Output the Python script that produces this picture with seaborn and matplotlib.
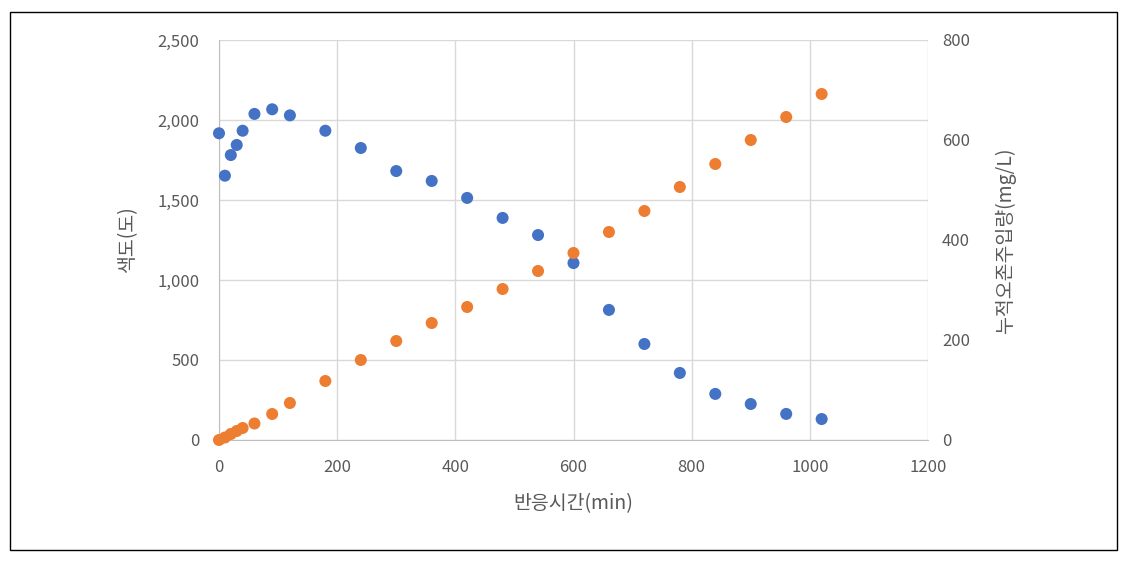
import matplotlib
matplotlib.use("Agg")
import matplotlib.pyplot as plt
import seaborn as sns
import pandas as pd
from matplotlib.patches import Rectangle
from matplotlib.ticker import FuncFormatter

sns.set_style("white")
plt.rcParams['font.family'] = ['Noto Sans CJK KR', 'DejaVu Sans']

time_min = [0, 10, 20, 30, 40, 60, 90, 120, 180, 240, 300, 360, 420, 480, 540,
            600, 660, 720, 780, 840, 900, 960, 1020]
color_deg = [1917, 1652, 1781, 1844, 1933, 2038, 2067, 2029, 1933, 1825, 1681,
             1619, 1513, 1388, 1281, 1106, 813, 600, 419, 288, 225, 163, 131]
ozone_mgL = [0, 5, 12, 18, 24, 33, 52, 74, 118, 160, 198, 234, 266, 302, 338,
             374, 416, 458, 506, 552, 600, 646, 692]

df = pd.DataFrame({"time": time_min, "color": color_deg, "ozone": ozone_mgL})

fig = plt.figure(figsize=(11.27, 5.63), dpi=100)
ax = fig.add_axes([219/1127, 1 - 440/563, (928-219)/1127, 400/563])
ax2 = ax.twinx()

grid_c = "#d9d9d9"
text_c = "#595959"

sns.scatterplot(data=df, x="time", y="color", ax=ax, color="#4472C4", s=75,
                edgecolor="none", zorder=3, clip_on=False)
sns.scatterplot(data=df, x="time", y="ozone", ax=ax2, color="#ED7D31", s=75,
                edgecolor="none", zorder=3, clip_on=False)

ax.set_xlim(0, 1200)
ax.set_ylim(0, 2500)
ax2.set_ylim(0, 800)
ax.set_xticks(range(0, 1201, 200))
ax.set_yticks(range(0, 2501, 500))
ax2.set_yticks(range(0, 801, 200))
ax.yaxis.set_major_formatter(FuncFormatter(lambda v, p: f"{int(v):,}"))

ax.grid(True, color=grid_c, linewidth=1)
ax.set_axisbelow(True)
for a in (ax, ax2):
    for s in a.spines.values():
        s.set_visible(False)
    a.tick_params(length=0, labelsize=12, colors=text_c)
ax.tick_params(axis='y', pad=14)
ax.tick_params(axis='x', pad=14)
ax2.tick_params(axis='y', pad=10)
ax.spines['left'].set_visible(True)
ax.spines['left'].set_color("#bfbfbf")
ax.spines['bottom'].set_visible(True)
ax.spines['bottom'].set_color("#bfbfbf")

ax.set_xlabel("반응시간(min)", fontsize=14, color=text_c, labelpad=12)
ax.set_ylabel("색도(도)", fontsize=14, color=text_c, labelpad=14)
ax2.set_ylabel("누적오존주입량(mg/L)", fontsize=14, color=text_c, labelpad=18)

fig.patches.append(Rectangle((10/1127, 1 - 550/563), 1107/1127, 538/563,
                             transform=fig.transFigure, fill=False,
                             edgecolor="black", linewidth=1))

fig.savefig("out.png", dpi=100)
